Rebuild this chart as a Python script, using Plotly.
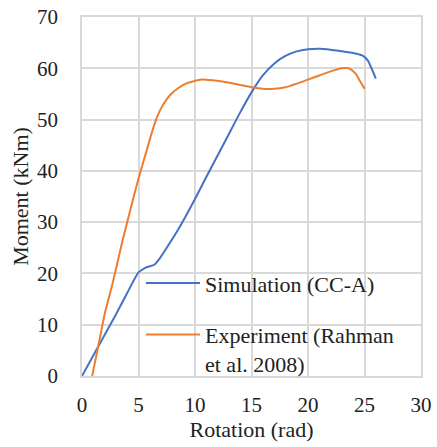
import plotly.graph_objects as go

sim_x = [0, 1, 2, 3, 4, 5, 5.6, 6.4, 6.9, 7.5, 8.5, 10, 11, 12, 13, 14, 15, 16, 17, 18, 19, 20, 21, 22, 23, 24, 24.8, 25.3, 26]
sim_y = [0, 4, 8, 12, 16.2, 20.2, 21.1, 21.7, 23, 25, 28.5, 34.5, 38.8, 43, 47.2, 51.4, 55.3, 58.6, 60.9, 62.4, 63.3, 63.7, 63.8, 63.6, 63.3, 63, 62.5, 61.5, 58]

exp_x = [0.9, 1.5, 2, 2.7, 3.6, 4.5, 5, 5.7, 6.2, 6.7, 7.2, 7.8, 8.5, 9.2, 10.6, 12.1, 13.7, 15, 16, 17, 18, 19, 20, 21, 22, 23, 23.6, 24.2, 24.6, 25]
exp_y = [0, 6.5, 12, 18, 26.5, 34.3, 38.5, 43.8, 47.6, 50.8, 53.0, 54.8, 56.1, 57, 57.8, 57.5, 56.9, 56.3, 56, 56, 56.3, 57, 57.8, 58.6, 59.4, 60, 60, 59, 57.5, 56]

x_ticks = [0, 5, 10, 15, 20, 25, 30]
y_ticks = [0, 10, 20, 30, 40, 50, 60, 70]

FONT = "Liberation Serif, Times New Roman, serif"
GRID = "#d9d9d9"

fig = go.Figure()
fig.add_trace(go.Scatter(x=sim_x, y=sim_y, mode="lines", name="Simulation (CC-A)",
                         line=dict(color="#4472C4", width=2, shape="spline", smoothing=0.5),
                         legendgroup="a"))
fig.add_trace(go.Scatter(x=exp_x, y=exp_y, mode="lines", name="Experiment (Rahman<br>et al. 2008)",
                         line=dict(color="#ED7D31", width=2, shape="spline", smoothing=0.6),
                         legendgroup="b"))

fig.update_layout(
    width=437, height=447,
    margin=dict(l=82, r=16, t=17, b=71),
    paper_bgcolor="white", plot_bgcolor="white",
    font=dict(family=FONT, size=21, color="#222"),
    showlegend=True,
    legend=dict(x=0.174, y=0.317, xanchor="left", yanchor="top",
                bgcolor="rgba(0,0,0,0)", font=dict(size=22, family=FONT),
                tracegroupgap=20, valign="top", itemwidth=54),
    xaxis=dict(range=[0, 30], tickvals=x_ticks, showgrid=True, gridcolor=GRID, gridwidth=1.5,
               zeroline=False, showline=True, linecolor=GRID, linewidth=1.5, mirror=True,
               ticks="", ticklabelstandoff=9, tickfont=dict(size=21, family=FONT), automargin=False,
               title=dict(text="Rotation (rad)", font=dict(size=22, family=FONT), standoff=6)),
    yaxis=dict(range=[0, 70], tickvals=y_ticks, showgrid=True, gridcolor=GRID, gridwidth=1.5,
               zeroline=False, showline=True, linecolor=GRID, linewidth=1.5, mirror=True,
               ticks="", ticklabelstandoff=18, tickfont=dict(size=21, family=FONT), automargin=False,
               title=dict(text="Moment (kNm)", font=dict(size=22, family=FONT), standoff=2)),
)

fig.write_html("out.html")
